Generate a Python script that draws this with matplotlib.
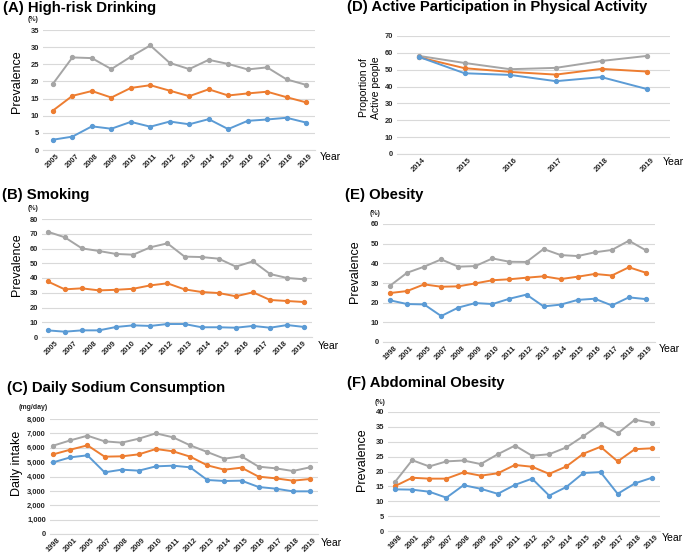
import matplotlib
matplotlib.use('Agg')
import matplotlib.pyplot as plt
import numpy as np

plt.rcParams['font.family'] = ['Liberation Sans', 'DejaVu Sans']

# --- Excel default colours ---
BLUE   = '#5B9BD5'
ORANGE = '#ED7D31'
GRAY   = '#A5A5A5'
GRID   = '#D9D9D9'
TICK   = '#262626'

# --- data ---
years_a = ['2005', '2007', '2008', '2009', '2010', '2011', '2012', '2013',
           '2014', '2015', '2016', '2017', '2018', '2019']
drink_gray   = [19.3, 27.0, 26.8, 23.6, 27.2, 30.5, 25.4, 23.6, 26.3, 25.1, 23.5, 24.1, 20.6, 19.0]
drink_orange = [11.5, 15.8, 17.2, 15.3, 18.1, 18.9, 17.3, 15.7, 17.7, 15.9, 16.5, 17.0, 15.4, 13.9]
drink_blue   = [3.0, 3.9, 6.9, 6.2, 8.2, 6.8, 8.3, 7.5, 9.0, 6.1, 8.5, 8.9, 9.4, 8.0]

years_b = years_a
smoke_gray   = [71.4, 67.6, 60.1, 58.3, 56.3, 55.8, 60.8, 63.5, 54.5, 54.2, 53.1, 47.7, 51.3, 42.7, 40.0, 39.1]
smoke_orange = [37.7, 32.3, 33.0, 31.6, 32.0, 32.7, 35.0, 36.4, 32.3, 30.5, 29.8, 27.6, 30.3, 25.1, 24.4, 23.7]
smoke_blue   = [4.5, 3.6, 4.5, 4.5, 6.8, 7.9, 7.5, 8.8, 8.8, 6.6, 6.6, 6.3, 7.5, 6.3, 8.1, 6.8]

years_long = ['1998', '2001', '2005', '2007', '2008', '2009', '2010', '2011',
              '2012', '2013', '2014', '2015', '2016', '2017', '2018', '2019']
sodium_gray   = [6146, 6515, 6840, 6446, 6354, 6632, 7002, 6725, 6168, 5704, 5240, 5403, 4684, 4568, 4383, 4638]
sodium_orange = [5542, 5867, 6168, 5380, 5403, 5542, 5913, 5751, 5380, 4777, 4475, 4614, 3988, 3872, 3710, 3826]
sodium_blue   = [4985, 5333, 5473, 4290, 4475, 4406, 4707, 4753, 4638, 3757, 3687, 3710, 3270, 3154, 2968, 2968]

years_d = ['2014', '2015', '2016', '2017', '2018', '2019']
active_gray   = [58.2, 54.0, 50.3, 51.1, 55.2, 58.2]
active_orange = [57.4, 50.9, 48.7, 47.1, 50.5, 48.9]
active_blue   = [57.6, 47.9, 46.9, 43.2, 45.6, 38.5]

obese_gray   = [28.6, 35.2, 38.3, 42.0, 38.3, 38.6, 42.5, 40.8, 40.7, 47.3, 44.2, 43.7, 45.6, 46.8, 51.5, 46.6]
obese_orange = [24.9, 25.9, 29.3, 28.1, 28.3, 29.8, 31.4, 31.9, 32.7, 33.4, 32.0, 33.2, 34.6, 33.8, 38.0, 35.2]
obese_blue   = [21.2, 19.3, 19.1, 13.2, 17.5, 19.8, 19.3, 22.0, 24.1, 18.1, 19.0, 21.4, 22.0, 18.6, 22.7, 21.8]

abd_gray   = [16.5, 23.8, 21.7, 23.4, 23.7, 22.5, 25.8, 28.7, 25.3, 25.8, 28.1, 31.9, 35.9, 32.8, 37.4, 36.3]
abd_orange = [15.1, 17.9, 17.6, 17.6, 19.7, 18.6, 19.4, 22.2, 21.6, 19.2, 21.7, 26.0, 28.3, 23.4, 27.5, 27.8]
abd_blue   = [14.0, 13.9, 13.2, 11.2, 15.4, 14.2, 12.5, 15.5, 17.6, 11.9, 14.8, 19.5, 19.8, 12.5, 16.0, 17.9]

W, H = 685, 554


def px_axes(fig, x0, x1, ytop, ybot):
    return fig.add_axes([x0 / W, 1 - ybot / H, (x1 - x0) / W, (ybot - ytop) / H])


def panel(ax, series, ylim, ystep, xlim, labels, tickpos=None,
          ylabel='Prevalence', ylab_xy=(-0.095, 0.6), ylab_size=9,
          unit='(%)', unit_xy=(-0.035, 1.09), year_xy=(1.015, -0.065), fmt=None):
    for vals, col in series:
        x = np.arange(len(vals))
        ax.plot(x, vals, color=col, lw=1.4, marker='o', ms=2.8, zorder=3)
    ax.set_xlim(*xlim)
    ax.set_ylim(0, ylim)
    ax.set_yticks(np.arange(0, ylim + ystep / 2, ystep))
    if fmt:
        ax.set_yticklabels([fmt(v) for v in ax.get_yticks()])
    if tickpos is None:
        tickpos = np.arange(len(labels))
    ax.set_xticks(tickpos)
    ax.set_xticklabels(labels, rotation=45, ha='center')
    ax.tick_params(axis='both', length=0, labelsize=5.4, labelcolor=TICK)
    ax.tick_params(axis='x', pad=2)
    ax.tick_params(axis='y', pad=3)
    for lab in ax.get_xticklabels() + ax.get_yticklabels():
        lab.set_fontweight('bold')
    ax.grid(axis='y', color=GRID, lw=0.8)
    ax.set_axisbelow(True)
    for s in ['top', 'right', 'left']:
        ax.spines[s].set_visible(False)
    ax.spines['bottom'].set_color(GRID)
    ax.spines['bottom'].set_linewidth(0.8)
    ax.text(*ylab_xy, ylabel, transform=ax.transAxes, rotation=90,
            ha='center', va='center', fontsize=ylab_size)
    if unit:
        ax.text(*unit_xy, unit, transform=ax.transAxes, ha='center',
                va='center', fontsize=5, fontweight='bold', color=TICK)
    ax.text(*year_xy, 'Year', transform=ax.transAxes, ha='left',
            va='center', fontsize=7.5)


fig = plt.figure(figsize=(W / 100, H / 100), dpi=100)
fig.patch.set_facecolor('white')

# (A) High-risk drinking
ax = px_axes(fig, 43, 315, 30, 150)
panel(ax, [(drink_gray, GRAY), (drink_orange, ORANGE), (drink_blue, BLUE)],
      35, 5, (-0.51, 13.46), years_a, ylab_xy=(-0.096, 0.567),
      unit_xy=(-0.037, 1.09), year_xy=(1.018, -0.058))
fig.text(3 / W, 1 - 8 / H, '(A) High-risk Drinking', fontsize=10.7,
         fontweight='bold', va='center')

# (B) Smoking
ax = px_axes(fig, 42, 312, 219, 337)
panel(ax, [(smoke_gray, GRAY), (smoke_orange, ORANGE), (smoke_blue, BLUE)],
      80, 10, (-0.33, 15.45), years_b, tickpos=np.linspace(0.25, 14.75, len(years_b)),
      ylab_xy=(-0.091, 0.61), unit_xy=(-0.032, 1.093), year_xy=(1.023, -0.076))
fig.text(2 / W, 1 - 195 / H, '(B) Smoking', fontsize=10.7,
         fontweight='bold', va='center')

# (C) Daily sodium
ax = px_axes(fig, 50, 318, 419, 534)
panel(ax, [(sodium_gray, GRAY), (sodium_orange, ORANGE), (sodium_blue, BLUE)],
      8000, 1000, (-0.19, 15.47), years_long, ylabel='Daily intake',
      ylab_xy=(-0.123, 0.617), unit='(mg/day)', unit_xy=(-0.063, 1.104),
      year_xy=(1.011, -0.078), fmt=lambda v: f'{int(v):,}')
fig.text(7 / W, 1 - 388 / H, '(C) Daily Sodium Consumption', fontsize=10.7,
         fontweight='bold', va='center')

# (D) Physical activity
ax = px_axes(fig, 397, 670, 36, 154)
panel(ax, [(active_gray, GRAY), (active_orange, ORANGE), (active_blue, BLUE)],
      70, 10, (-0.48, 5.5), years_d, ylabel='Proportion of\nActive people',
      ylab_xy=(-0.099, 0.56), ylab_size=7.5, unit=None,
      year_xy=(0.975, -0.068))
fig.text(347 / W, 1 - 7 / H, '(D) Active Participation in Physical Activity',
         fontsize=10.7, fontweight='bold', va='center')

# (E) Obesity
ax = px_axes(fig, 383, 655, 224, 342)
panel(ax, [(obese_gray, GRAY), (obese_orange, ORANGE), (obese_blue, BLUE)],
      60, 10, (-0.41, 15.53), years_long, ylab_xy=(-0.103, 0.60),
      unit_xy=(-0.03, 1.093), year_xy=(1.015, -0.059))
fig.text(345 / W, 1 - 195 / H, '(E) Obesity', fontsize=10.7,
         fontweight='bold', va='center')

# (F) Abdominal obesity
ax = px_axes(fig, 388, 660, 412, 531)
panel(ax, [(abd_gray, GRAY), (abd_orange, ORANGE), (abd_blue, BLUE)],
      40, 5, (-0.41, 15.47), years_long, ylab_xy=(-0.096, 0.597),
      unit_xy=(-0.03, 1.076), year_xy=(1.007, -0.059))
fig.text(347 / W, 1 - 383 / H, '(F) Abdominal Obesity', fontsize=10.7,
         fontweight='bold', va='center')

fig.savefig('out.png', dpi=100, facecolor='white')
